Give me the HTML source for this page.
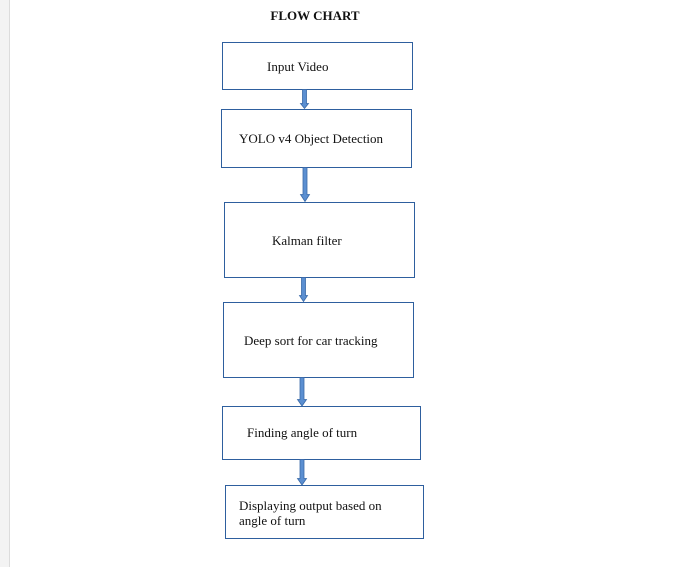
<!DOCTYPE html>
<html><head><style>
html,body{margin:0;padding:0;background:#fff;}
svg{display:block;}
text{font-family:"Liberation Serif",serif;font-size:13px;fill:#111;}
</style></head><body>
<svg width="676" height="567" xmlns="http://www.w3.org/2000/svg">
<rect x="0" y="0" width="9" height="567" fill="#f3f3f3"/>
<line x1="9.5" y1="0" x2="9.5" y2="567" stroke="#dcdcdc" stroke-width="1"/>
<text x="315" y="20" text-anchor="middle" font-weight="bold" style="font-weight:bold">FLOW CHART</text>
<g fill="none" stroke="#2e5f9e" stroke-width="1">
<rect x="222.5" y="42.5" width="190" height="47"/>
<rect x="221.5" y="109.5" width="190" height="58"/>
<rect x="224.5" y="202.5" width="190" height="75"/>
<rect x="223.5" y="302.5" width="190" height="75"/>
<rect x="222.5" y="406.5" width="198" height="53"/>
<rect x="225.5" y="485.5" width="198" height="53"/>
</g>
<g fill="#5b8fd1" stroke="#3a6aa8" stroke-width="0.8">
<path d="M302.5 89.5 h4 v14 h2 l-4 5 l-4 -5 h2 z"/>
<path d="M303 167.5 h4 v27 h2.5 l-4.5 7 l-4.5 -7 h2.5 z"/>
<path d="M301.5 277.5 h4 v18 h2 l-4 6 l-4 -6 h2 z"/>
<path d="M300 377.5 h4 v22 h2.5 l-4.5 6.5 l-4.5 -6.5 h2.5 z"/>
<path d="M300 459.5 h4 v19 h2.5 l-4.5 6.5 l-4.5 -6.5 h2.5 z"/>
</g>
<text x="267" y="71">Input Video</text>
<text x="239" y="143">YOLO v4 Object Detection</text>
<text x="272" y="245">Kalman filter</text>
<text x="244" y="345">Deep sort for car tracking</text>
<text x="247" y="437">Finding angle of turn</text>
<text x="239" y="510">Displaying output based on</text>
<text x="239" y="525">angle of turn</text>
</svg>
</body></html>
